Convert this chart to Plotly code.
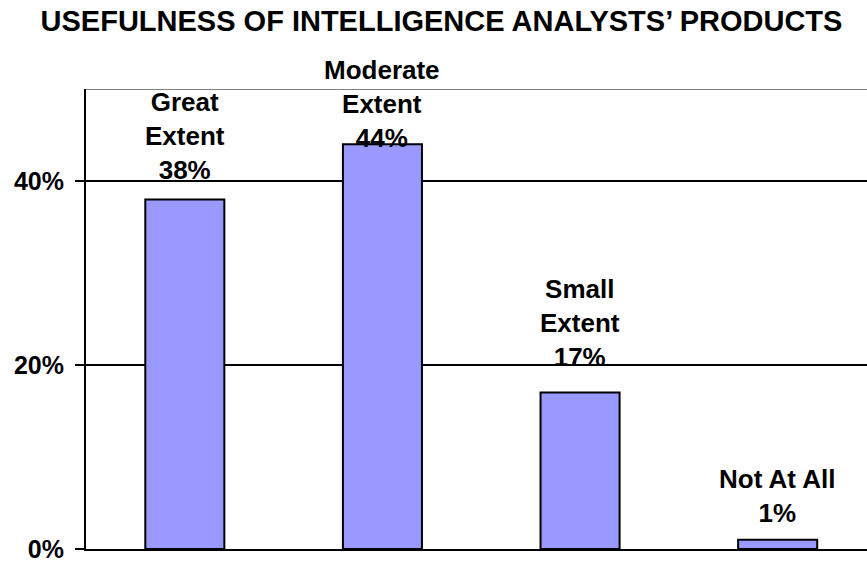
import plotly.graph_objects as go

# survey answers
categories = ["Great Extent", "Moderate Extent", "Small Extent", "Not At All"]
label_text = ["Great<br>Extent", "Moderate<br>Extent", "Small<br>Extent", "Not At All"]
shares = [38, 44, 17, 1]
y_ticks = [0, 20, 40]
y_tick_labels = ["<b>0%</b>", "<b>20%</b>", "<b>40%</b>"]

# hand-placed label nudges (pixels), like the dragged labels in the original
label_shift = [12, -11, 19, 10]

FONT = "Arial, Liberation Sans, sans-serif"
W, H = 867, 563

fig = go.Figure()
fig.add_trace(go.Bar(
    x=list(range(len(categories))),
    y=shares,
    width=0.4,
    marker=dict(color="#9999FF", line=dict(color="black", width=2)),
    hoverinfo="skip",
))

for i, (lab, v) in enumerate(zip(label_text, shares)):
    fig.add_annotation(
        x=i, y=v, text="<b>" + lab + "<br>" + str(v) + "%</b>",
        showarrow=False, yanchor="bottom", yshift=label_shift[i],
        font=dict(family=FONT, size=26, color="black"),
    )

# grey top border of the plot area
fig.add_shape(type="line", xref="paper", yref="y", x0=0, x1=1, y0=50, y1=50,
              line=dict(color="#808080", width=2))

fig.update_layout(
    width=W, height=H,
    margin=dict(l=86, r=0, t=89, b=12),
    paper_bgcolor="white", plot_bgcolor="white",
    showlegend=False,
    title=dict(text="<b>USEFULNESS OF INTELLIGENCE ANALYSTS\u2019 PRODUCTS</b>",
               x=441.5 / W, xref="container", xanchor="center",
               y=1 - 21 / H, yref="container", yanchor="middle",
               font=dict(family=FONT, size=29, color="black")),
    xaxis=dict(range=[-0.5, 3.452], showticklabels=False, ticks="",
               showgrid=False, zeroline=False, showline=True,
               linecolor="black", linewidth=2),
    yaxis=dict(range=[0, 50], tickvals=y_ticks, ticktext=y_tick_labels,
               ticks="outside", ticklen=9, tickwidth=2, tickcolor="black",
               ticklabeloverflow="allow", ticklabelstandoff=6,
               showgrid=True, gridcolor="black", gridwidth=2,
               zeroline=False, showline=True, linecolor="black", linewidth=2,
               tickfont=dict(family=FONT, size=25, color="black")),
)

# drop the browser's default 8px body margin so the figure fills the window
fig.write_html("out.html", config={"displayModeBar": False},
               post_script="document.body.style.margin='0';")
